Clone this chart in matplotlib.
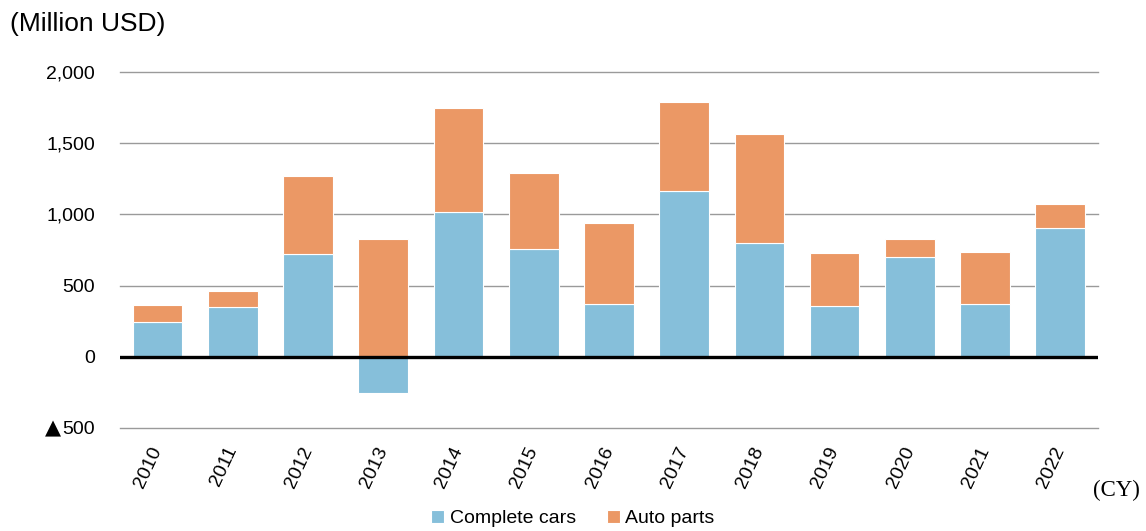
import matplotlib
matplotlib.use("Agg")
import matplotlib.pyplot as plt
import matplotlib.transforms as mtransforms
import numpy as np

# Annual figures, million USD
years = ["2010", "2011", "2012", "2013", "2014", "2015", "2016",
         "2017", "2018", "2019", "2020", "2021", "2022"]
complete_cars = [247, 352, 724, -253, 1018, 758, 373, 1162, 799, 357, 701, 371, 902]
auto_parts = [117, 110, 543, 827, 727, 530, 570, 625, 767, 372, 124, 363, 169]

ytick_values = [-500, 0, 500, 1000, 1500, 2000]
ytick_labels = ["500", "0", "500", "1,000", "1,500", "2,000"]
NEG_MARK = "▲"  # negative values are written with a leading triangle

plt.rcParams["font.family"] = ["Liberation Sans", "DejaVu Sans"]

BLUE = "#86bfda"
ORANGE = "#eb9865"

fig = plt.figure(figsize=(11.46, 5.31), dpi=100)
ax = fig.add_axes([0.1047, 0.194, 0.8533, 0.6704])

x = np.arange(len(years))
cars = np.array(complete_cars, dtype=float)
parts = np.array(auto_parts, dtype=float)
# positive parts stack on top of the positive share of complete cars
parts_bottom = np.where(cars > 0, cars, 0)

ax.bar(x, cars, width=0.66, color=BLUE, edgecolor="white", linewidth=0.8,
       label="Complete cars", zorder=3)
ax.bar(x, parts, width=0.66, bottom=parts_bottom, color=ORANGE,
       edgecolor="white", linewidth=0.8, label="Auto parts", zorder=3)

ax.set_xlim(-0.5, len(years) - 0.5)
ax.set_ylim(-500, 2000)
ax.set_yticks(ytick_values)
ax.set_yticklabels(ytick_labels, fontsize=14)
ax.set_xticks(x)
ax.set_xticklabels(years, fontsize=14, rotation=65, ha="right",
                   rotation_mode="anchor", va="center")

ax.tick_params(axis="both", length=0)
ax.tick_params(axis="y", pad=18)
ax.tick_params(axis="x", pad=14)

# triangle in front of the negative tick label
fig.canvas.draw()
renderer = fig.canvas.get_renderer()
for val, lbl in zip(ytick_values, ax.get_yticklabels()):
    if val < 0:
        bb = lbl.get_window_extent(renderer)
        ax.text(bb.x0 - 1, val, NEG_MARK, fontsize=15, family="DejaVu Sans",
                ha="right", va="center",
                transform=mtransforms.blended_transform_factory(
                    mtransforms.IdentityTransform(), ax.transData))

for s in ax.spines.values():
    s.set_visible(False)

# horizontal gridlines, drawn unclipped so the edge lines show fully
for v in ytick_values:
    if v != 0:
        ax.axhline(v, color="#9a9a9a", linewidth=1.0, zorder=0, clip_on=False)
ax.axhline(0, color="black", linewidth=2.4, zorder=4)

fig.text(0.009, 0.955, "(Million USD)", fontsize=19, ha="left", va="center")
fig.text(0.995, 0.077, "(CY)", fontsize=16.5, ha="right", va="center",
         family="Liberation Serif")

ax.legend(loc="center", bbox_to_anchor=(0.5, 0.024), bbox_transform=fig.transFigure,
          ncol=2, frameon=False, fontsize=14, handlelength=0.65, handleheight=0.65,
          handletextpad=0.3, columnspacing=1.6, borderpad=0)

fig.savefig("out.png", dpi=100)
